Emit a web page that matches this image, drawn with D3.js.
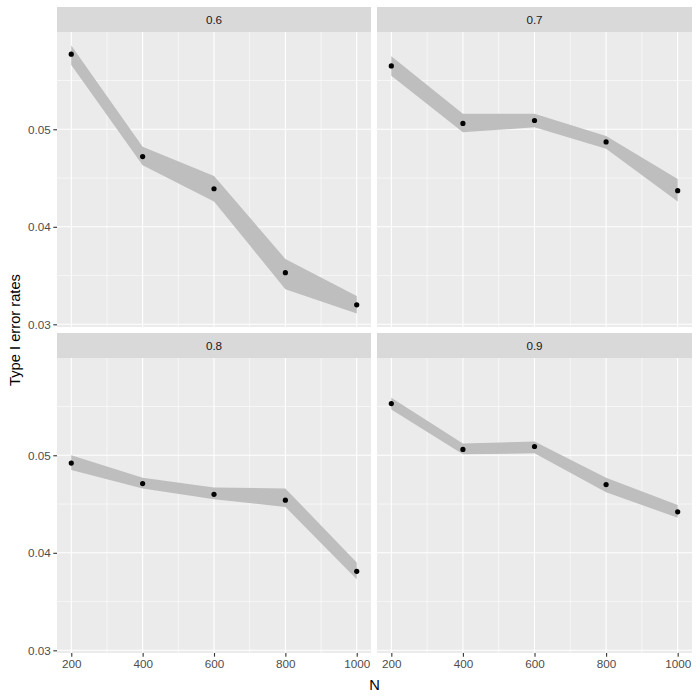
<!DOCTYPE html>
<html>
<head>
<meta charset="utf-8">
<script src="https://cdn.jsdelivr.net/npm/d3@7"></script>
<style>
  body { margin: 0; background: #fff; }
  svg { font-family: "Liberation Sans", Arial, sans-serif; }
</style>
</head>
<body>
<svg id="chart" width="700" height="700"></svg>
<script>
// facet labels and sample sizes
const facets = ["0.6", "0.7", "0.8", "0.9"];
const sizes = [200, 400, 600, 800, 1000];

// estimated type I error rates per facet
const rate06 = [0.0577, 0.0472, 0.0439, 0.0353, 0.0320];
const rate07 = [0.0565, 0.0506, 0.0509, 0.0487, 0.0437];
const rate08 = [0.0492, 0.0471, 0.0460, 0.0454, 0.0381];
const rate09 = [0.0553, 0.0506, 0.0509, 0.0470, 0.0442];

// ribbon bounds
const lower06 = [0.0566, 0.0463, 0.0426, 0.0336, 0.0311];
const upper06 = [0.0586, 0.0482, 0.0452, 0.0367, 0.0329];
const lower07 = [0.0555, 0.0497, 0.0502, 0.0480, 0.0426];
const upper07 = [0.0575, 0.0516, 0.0516, 0.0493, 0.0449];
const lower08 = [0.0485, 0.0466, 0.0455, 0.0447, 0.0373];
const upper08 = [0.0500, 0.0477, 0.0467, 0.0466, 0.0390];
const lower09 = [0.0547, 0.0501, 0.0502, 0.0462, 0.0436];
const upper09 = [0.0559, 0.0512, 0.0514, 0.0477, 0.0449];

const yTicks = [0.03, 0.04, 0.05];
const xTicks = [200, 400, 600, 800, 1000];

const series = [
  { label: facets[0], rate: rate06, lo: lower06, hi: upper06 },
  { label: facets[1], rate: rate07, lo: lower07, hi: upper07 },
  { label: facets[2], rate: rate08, lo: lower08, hi: upper08 },
  { label: facets[3], rate: rate09, lo: lower09, hi: upper09 }
];

const svg = d3.select("#chart");

// layout (ggplot-like facet_wrap, 2x2)
const cols = [{ x0: 57, x1: 371 }, { x0: 377, x1: 692 }];
const rows = [{ s0: 7, p0: 32, p1: 327 }, { s0: 333, p0: 358, p1: 653 }];

// shared y scale with 5% expansion
const yMin = d3.min(series, s => d3.min(s.lo));
const yMax = d3.max(series, s => d3.max(s.hi));
const yPad = (yMax - yMin) * 0.05;
const xPad = (d3.max(sizes) - d3.min(sizes)) * 0.05;

series.forEach((s, i) => {
  const c = cols[i % 2], r = rows[Math.floor(i / 2)];
  const x = d3.scaleLinear()
    .domain([d3.min(sizes) - xPad, d3.max(sizes) + xPad])
    .range([c.x0, c.x1]);
  const y = d3.scaleLinear()
    .domain([yMin - yPad, yMax + yPad])
    .range([r.p1, r.p0]);

  const g = svg.append("g");

  // strip
  g.append("rect")
    .attr("x", c.x0).attr("y", r.s0)
    .attr("width", c.x1 - c.x0).attr("height", r.p0 - r.s0)
    .attr("fill", "#d9d9d9");
  g.append("text")
    .attr("x", (c.x0 + c.x1) / 2).attr("y", (r.s0 + r.p0) / 2)
    .attr("dy", "0.35em")
    .attr("text-anchor", "middle")
    .attr("font-size", "11.7px")
    .attr("fill", "#1a1a1a")
    .text(s.label);

  // panel background
  g.append("rect")
    .attr("x", c.x0).attr("y", r.p0)
    .attr("width", c.x1 - c.x0).attr("height", r.p1 - r.p0)
    .attr("fill", "#ebebeb");

  // minor grid
  const xMinor = [300, 500, 700, 900];
  const yMinor = [0.035, 0.045, 0.055];
  g.selectAll(".xminor").data(xMinor).enter().append("line")
    .attr("x1", d => x(d)).attr("x2", d => x(d))
    .attr("y1", r.p0).attr("y2", r.p1)
    .attr("stroke", "#fff").attr("stroke-width", 0.55);
  g.selectAll(".yminor").data(yMinor).enter().append("line")
    .attr("x1", c.x0).attr("x2", c.x1)
    .attr("y1", d => y(d)).attr("y2", d => y(d))
    .attr("stroke", "#fff").attr("stroke-width", 0.55);

  // major grid
  g.selectAll(".xmajor").data(xTicks).enter().append("line")
    .attr("x1", d => x(d)).attr("x2", d => x(d))
    .attr("y1", r.p0).attr("y2", r.p1)
    .attr("stroke", "#fff").attr("stroke-width", 1.1);
  g.selectAll(".ymajor").data(yTicks).enter().append("line")
    .attr("x1", c.x0).attr("x2", c.x1)
    .attr("y1", d => y(d)).attr("y2", d => y(d))
    .attr("stroke", "#fff").attr("stroke-width", 1.1);

  // ribbon
  const rows5 = sizes.map((n, k) => ({ n, v: s.rate[k], lo: s.lo[k], hi: s.hi[k] }));
  const area = d3.area()
    .x(d => x(d.n))
    .y0(d => y(d.lo))
    .y1(d => y(d.hi));
  g.append("path")
    .datum(rows5)
    .attr("d", area)
    .attr("fill", "#bebebe");

  // points
  g.selectAll(".pt").data(rows5).enter().append("circle")
    .attr("cx", d => x(d.n)).attr("cy", d => y(d.v))
    .attr("r", 2.6)
    .attr("fill", "#000");

  // axes
  if (i % 2 === 0) {
    const ay = g.append("g")
      .attr("transform", `translate(${c.x0},0)`)
      .call(d3.axisLeft(y).tickValues(yTicks).tickSize(3.7).tickPadding(2.5).tickFormat(d3.format(".2f")));
    ay.select(".domain").remove();
    ay.selectAll("line").attr("stroke", "#333").attr("stroke-width", 1.1);
    ay.selectAll("text").attr("fill", "#4d4d4d").attr("font-size", "11.7px").attr("font-family", null);
  }
  if (i >= 2) {
    const ax = g.append("g")
      .attr("transform", `translate(0,${r.p1})`)
      .call(d3.axisBottom(x).tickValues(xTicks).tickSize(3.7).tickPadding(2.5).tickFormat(d3.format("d")));
    ax.select(".domain").remove();
    ax.selectAll("line").attr("stroke", "#333").attr("stroke-width", 1.1);
    ax.selectAll("text").attr("fill", "#4d4d4d").attr("font-size", "11.7px").attr("font-family", null);
  }
});

// axis titles
svg.append("text")
  .attr("x", (cols[0].x0 + cols[1].x1) / 2)
  .attr("y", 690)
  .attr("text-anchor", "middle")
  .attr("font-size", "14.7px")
  .attr("fill", "#000")
  .text("N");

svg.append("text")
  .attr("transform", `translate(20,${(rows[0].s0 + rows[1].p1) / 2}) rotate(-90)`)
  .attr("text-anchor", "middle")
  .attr("font-size", "14.7px")
  .attr("fill", "#000")
  .text("Type I error rates");
</script>
</body>
</html>
